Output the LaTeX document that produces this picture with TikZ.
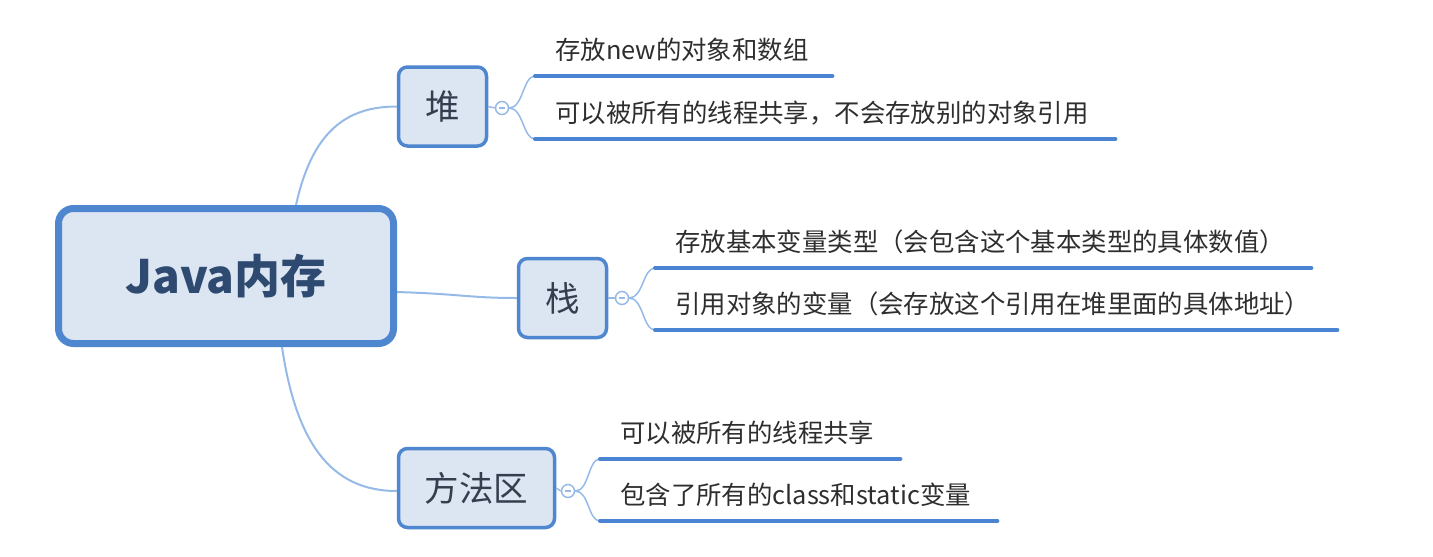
\documentclass[tikz,border=0pt]{standalone}
\usepackage{fontspec}
\newfontfamily\cjk{Noto Sans CJK SC}
\usepackage{tikz}
\usetikzlibrary{positioning,backgrounds}
\definecolor{boxblue}{RGB}{79,134,208}
\definecolor{boxfill}{RGB}{220,230,242}
\definecolor{linkblue}{RGB}{150,186,232}
\definecolor{leafblue}{RGB}{74,132,210}
\definecolor{nodetext}{RGB}{52,62,78}
\definecolor{roottext}{RGB}{46,74,112}
\tikzset{
	x=1pt, y=-1pt, % one unit per pixel of the reference
	link/.style={draw=linkblue, line width=2pt}, % curves between the topics
	leafline/.style={draw=leafblue, line width=4pt, line cap=round}, % underline of a leaf
	fold/.style={circle, draw=linkblue, line width=1.5pt, fill=white, minimum size=13pt, inner sep=0pt,
		path picture={\draw[linkblue, line width=1.2pt] ([xshift=-3pt]path picture bounding box.center) -- ([xshift=3pt]path picture bounding box.center);}},
}

\begin{document}
\begin{tikzpicture}[
	rootnode/.style={rectangle, draw=boxblue, fill=boxfill, line width=7pt, rounded corners=15pt, minimum width=335pt, minimum height=135pt, font=\cjk\fontsize{46}{52}\selectfont\bfseries, text=roottext},
	topicnode/.style={rectangle, draw=boxblue, fill=boxfill, line width=3.5pt, rounded corners=9pt, minimum height=79pt, font=\cjk\fontsize{34.5}{40}\selectfont, text=nodetext},
	leafnode/.style={anchor=south west, inner xsep=20pt, inner ysep=11pt, text height=20pt, text depth=5pt, align=left, font=\cjk\fontsize{25.4}{30}\selectfont, text=black!82},
	]
	\useasboundingbox (0,0) rectangle (1433,557);
	%Nodes
	\node[rootnode] (root) at (226,276) {Java内存};

	\node[topicnode, minimum width=88pt] (heap) at (442.5,106.5) {堆};
	\node[topicnode, minimum width=88pt] (stack) at (562.5,298) {栈};
	\node[topicnode, minimum width=156pt] (method) at (476.5,488) {方法区};

	\node[fold] (heapfold) at (502,108) {};
	\node[fold] (stackfold) at (622,298) {};
	\node[fold] (methodfold) at (568,491) {};

	\node[leafnode, text width=257pt] (heapA) at (535,76) {存放new的对象和数组};
	\node[leafnode, text width=540pt] (heapB) at (535,139) {可以被所有的线程共享，不会存放别的对象引用};
	\node[leafnode, text width=616pt] (stackA) at (655,268) {存放基本变量类型（会包含这个基本类型的具体数值）};
	\node[leafnode, text width=642pt] (stackB) at (655,330) {引用对象的变量（会存放这个引用在堆里面的具体地址）};
	\node[leafnode, text width=260pt] (methodA) at (600,459) {可以被所有的线程共享};
	\node[leafnode, text width=357pt] (methodB) at (600,521) {包含了所有的class和static变量};

	%Lines
	\begin{pgfonlayer}{background}
	\path[link] ([xshift=70pt]root.north) .. controls +(16,-72) and +(-52,0) .. (heap.west);
	\path[link] ([yshift=-16pt]root.east) .. controls +(64,2) and +(-47,0) .. (stack.west);
	\path[link] ([xshift=56pt]root.south) .. controls +(14,94) and +(-67,0) .. ([yshift=-3pt]method.west);
	\end{pgfonlayer}

	\draw[link, line width=1.5pt] (heap.east) -- (heapfold.west);
	\draw[link, line width=1.5pt] (stack.east) -- (stackfold.west);
	\draw[link, line width=1.5pt] (method.east) -- (methodfold.west);

	\foreach \f/\a/\b in {heapfold/heapA/heapB, stackfold/stackA/stackB, methodfold/methodA/methodB}{
		\draw[link, line width=1.5pt] (\f.east) .. controls +(14,0) and +(-12,0) .. (\a.south west);
		\draw[link, line width=1.5pt] (\f.east) .. controls +(14,0) and +(-12,0) .. (\b.south west);
		\draw[leafline] (\a.south west) -- (\a.south east);
		\draw[leafline] (\b.south west) -- (\b.south east);
	}
\end{tikzpicture}
\end{document}
